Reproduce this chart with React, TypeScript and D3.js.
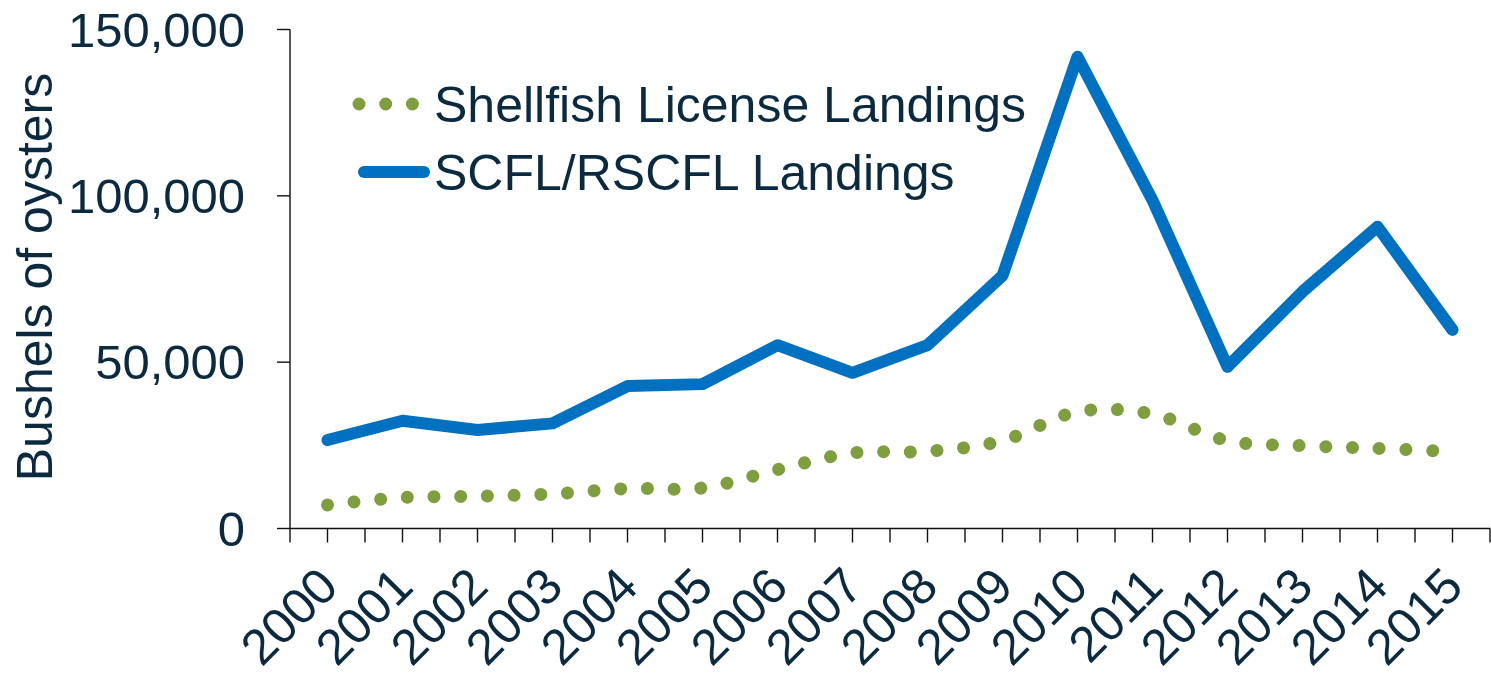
import { useEffect, useRef } from 'react';
import * as d3 from 'd3';

const years = ['2000', '2001', '2002', '2003', '2004', '2005', '2006', '2007',
  '2008', '2009', '2010', '2011', '2012', '2013', '2014', '2015'];

// SCFL/RSCFL landings (solid blue)
const scflLandings = [26600, 32400, 29600, 31600, 42800, 43400, 55100, 46800,
  55100, 76000, 141800, 98700, 48600, 71200, 90700, 59700];

// Shellfish license landings (dotted green, smoothed)
const shellfishLandings = [7100, 9300, 9700, 10400, 12000, 12200, 17700, 22700,
  23200, 26400, 35100, 34400, 26400, 24900, 24100, 23100];

const yTicks = [0, 50000, 100000, 150000];

const seriesNames = ['Shellfish License Landings', 'SCFL/RSCFL Landings'];

const FONT = '"Liberation Sans", Arial, sans-serif';
const TEXT = '#0b2a3f';
const BLUE = '#0070c0';
const GREEN = '#7f9e40';

const App = () => {
  const ref = useRef<SVGSVGElement>(null);

  useEffect(() => {
    const width = 1491;
    const height = 675;
    const left = 290, right = 1490, top = 29.5, bottom = 528.5;

    const svg = d3.select(ref.current);
    svg.selectAll('*').remove();
    svg.attr('width', width).attr('height', height);

    const x = d3.scaleBand().domain(years).range([left, right]);
    const cx = (d: string) => (x(d) as number) + x.bandwidth() / 2;
    const y = d3.scaleLinear().domain([0, 150000]).range([bottom, top]);

    // 坐标轴
    const axis = svg.append('g').attr('stroke', '#111').attr('stroke-width', 1.4);
    axis.append('line').attr('x1', left).attr('x2', left).attr('y1', y(150000)).attr('y2', bottom);
    axis.append('line').attr('x1', left).attr('x2', right).attr('y1', bottom).attr('y2', bottom);

    yTicks.forEach(t => {
      axis.append('line').attr('x1', left - 13).attr('x2', left).attr('y1', y(t)).attr('y2', y(t));
    });

    // x ticks at band edges and band centres
    const xTickPos: number[] = [];
    years.forEach(yr => { xTickPos.push(x(yr) as number, cx(yr)); });
    xTickPos.push(right);
    xTickPos.forEach(p => {
      axis.append('line').attr('x1', p).attr('x2', p).attr('y1', bottom).attr('y2', bottom + 14);
    });

    const fmt = d3.format(',');
    svg.append('g')
      .selectAll('text')
      .data(yTicks)
      .join('text')
      .attr('x', 245)
      .attr('y', d => y(d))
      .attr('dy', '0.35em')
      .attr('text-anchor', 'end')
      .attr('font-family', FONT)
      .attr('font-size', 49)
      .attr('fill', TEXT)
      .text(d => fmt(d));

    svg.append('g')
      .selectAll('text')
      .data(years)
      .join('text')
      .attr('transform', d => `translate(${cx(d) + 13},589) rotate(-45)`)
      .attr('text-anchor', 'end')
      .attr('font-family', FONT)
      .attr('font-size', 50)
      .attr('fill', TEXT)
      .text(d => d);

    svg.append('text')
      .attr('transform', 'translate(52,277) rotate(-90)')
      .attr('text-anchor', 'middle')
      .attr('font-family', FONT)
      .attr('font-size', 50)
      .attr('fill', TEXT)
      .text('Bushels of oysters');

    // 绿色点线（平滑）
    const smooth = d3.line<number>()
      .x((_, i) => cx(years[i]))
      .y(d => y(d))
      .curve(d3.curveCardinal.tension(0));

    svg.append('path')
      .datum(shellfishLandings)
      .attr('fill', 'none')
      .attr('stroke', GREEN)
      .attr('stroke-width', 13)
      .attr('stroke-linecap', 'round')
      .attr('stroke-dasharray', '0.01 26.7')
      .attr('d', smooth);

    const straight = d3.line<number>()
      .x((_, i) => cx(years[i]))
      .y(d => y(d));

    svg.append('path')
      .datum(scflLandings)
      .attr('fill', 'none')
      .attr('stroke', BLUE)
      .attr('stroke-width', 12)
      .attr('stroke-linecap', 'round')
      .attr('stroke-linejoin', 'round')
      .attr('d', straight);

    // legend
    const legend = svg.append('g');
    legend.append('line')
      .attr('x1', 359).attr('x2', 426).attr('y1', 104).attr('y2', 104)
      .attr('stroke', GREEN).attr('stroke-width', 13)
      .attr('stroke-linecap', 'round').attr('stroke-dasharray', '0.01 26.7');
    legend.append('line')
      .attr('x1', 364).attr('x2', 424).attr('y1', 172).attr('y2', 172)
      .attr('stroke', BLUE).attr('stroke-width', 12)
      .attr('stroke-linecap', 'round');
    legend.selectAll('text')
      .data(seriesNames)
      .join('text')
      .attr('x', 434)
      .attr('y', (_, i) => 104 + i * 68)
      .attr('dy', '0.35em')
      .attr('font-family', FONT)
      .attr('font-size', 50)
      .attr('fill', TEXT)
      .text(d => d);
  }, []);

  return (
    <div style={{ position: 'absolute', left: 0, top: 0, background: '#fff' }}>
      <svg ref={ref} style={{ display: 'block' }}></svg>
    </div>
  );
};

export default App;
